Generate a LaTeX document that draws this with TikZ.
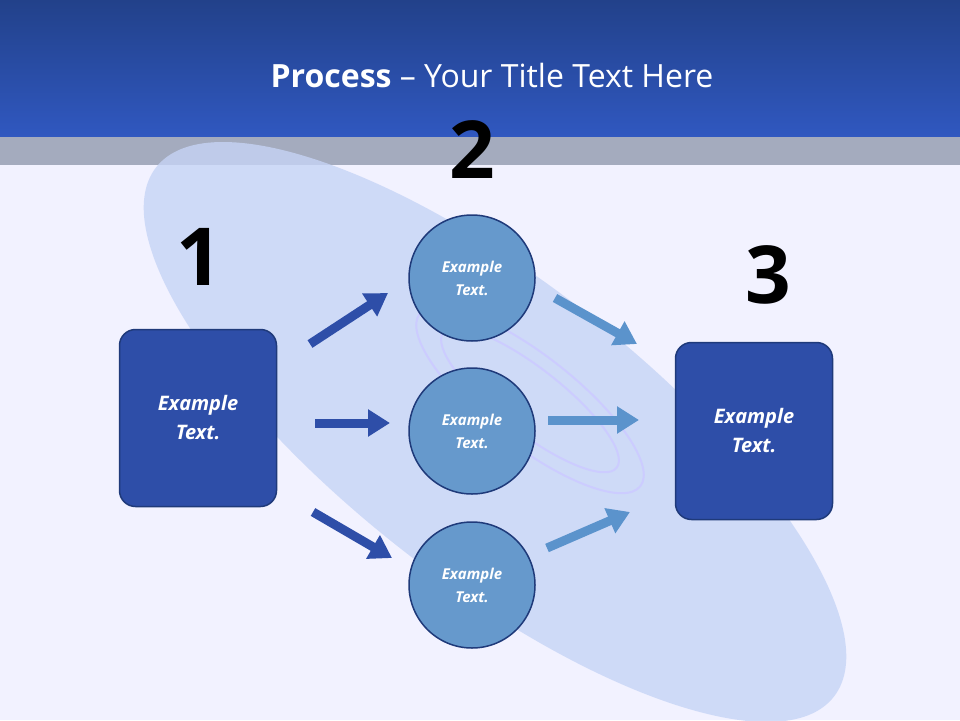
\documentclass[tikz,border=0pt]{standalone}
\usepackage{fontspec}
\setmainfont{Open Sans}
\usetikzlibrary{arrows.meta,positioning}
\definecolor{bandtop}{HTML}{22418A}
\definecolor{bandbot}{HTML}{3058C0}
\definecolor{boxblue}{HTML}{2E4EA8}
\definecolor{boxline}{HTML}{1F3A7A}
\definecolor{ballblue}{HTML}{6699CC}
\definecolor{lightarrow}{HTML}{5B93CC}
\definecolor{disk}{HTML}{C6D4F6}
\tikzset{
  stepbox/.style={rectangle,rounded corners=16pt,fill=boxblue,draw=boxline,line width=1.5pt,
    minimum width=157pt,minimum height=177pt,text=white,font=\bfseries\itshape\fontsize{20}{29}\selectfont,align=center},
  ball/.style={circle,fill=ballblue,draw=boxline,line width=1.5pt,minimum size=126pt,
    text=white,font=\bfseries\itshape\fontsize{15}{23}\selectfont,align=center},
  stepno/.style={font=\bfseries\fontsize{80}{80}\selectfont},
  fat/.style={-{Triangle[length=22pt,width=26pt]},line width=9pt},
}
\begin{document}
\begin{tikzpicture}[x=1pt,y=-1pt]
  \useasboundingbox (0,0) rectangle (960,720);
  \fill[fill=white!95!blue] (0,0) rectangle (960,720);
  % title band
  \shade[top color=bandtop,bottom color=bandbot] (0,0) rectangle (960,137);
  \fill[fill=bandbot!30!gray!60!white] (0,137) rectangle (960,165);
  % tilted disk
  \fill[disk,opacity=0.8,rotate around={-38:(495,432)}] (495,432) ellipse (430 and 150);
  \draw[white!80!blue,line width=2pt,rotate around={-38:(530,400)}] (530,400) ellipse (140 and 45);
  \draw[white!80!blue,line width=2pt,rotate around={-38:(530,400)}] (530,400) ellipse (110 and 32);
  \node[text=white,font=\fontsize{32}{38}\selectfont] (title) at (492,75)
    {\textbf{Process} -- Your Title Text Here};

  \node[stepbox] (left)  at (198,418) {Example\\Text.};
  \node[stepbox] (right) at (754,431) {Example\\Text.};
  \node[ball] (top) at (472,278) {Example\\Text.};
  \node[ball] (mid) at (472,431) {Example\\Text.};
  \node[ball] (bot) at (472,585) {Example\\Text.};

  \node[stepno] (one)   at (199,257) {1};
  \node[stepno] (two)   at (472,150) {2};
  \node[stepno] (three) at (768,275) {3};

  \coordinate (a1) at (310,344); \coordinate (b1) at (388,293);
  \coordinate (a2) at (315,423); \coordinate (b2) at (390,423);
  \coordinate (a3) at (313,512); \coordinate (b3) at (392,558);
  \coordinate (c1) at (555,298); \coordinate (d1) at (637,344);
  \coordinate (c2) at (548,420); \coordinate (d2) at (639,420);
  \coordinate (c3) at (547,548); \coordinate (d3) at (630,512);
  \draw[fat,boxblue] (a1) -- (b1);
  \draw[fat,boxblue] (a2) -- (b2);
  \draw[fat,boxblue] (a3) -- (b3);
  \draw[fat,lightarrow] (c1) -- (d1);
  \draw[fat,lightarrow] (c2) -- (d2);
  \draw[fat,lightarrow] (c3) -- (d3);
\end{tikzpicture}
\end{document}
